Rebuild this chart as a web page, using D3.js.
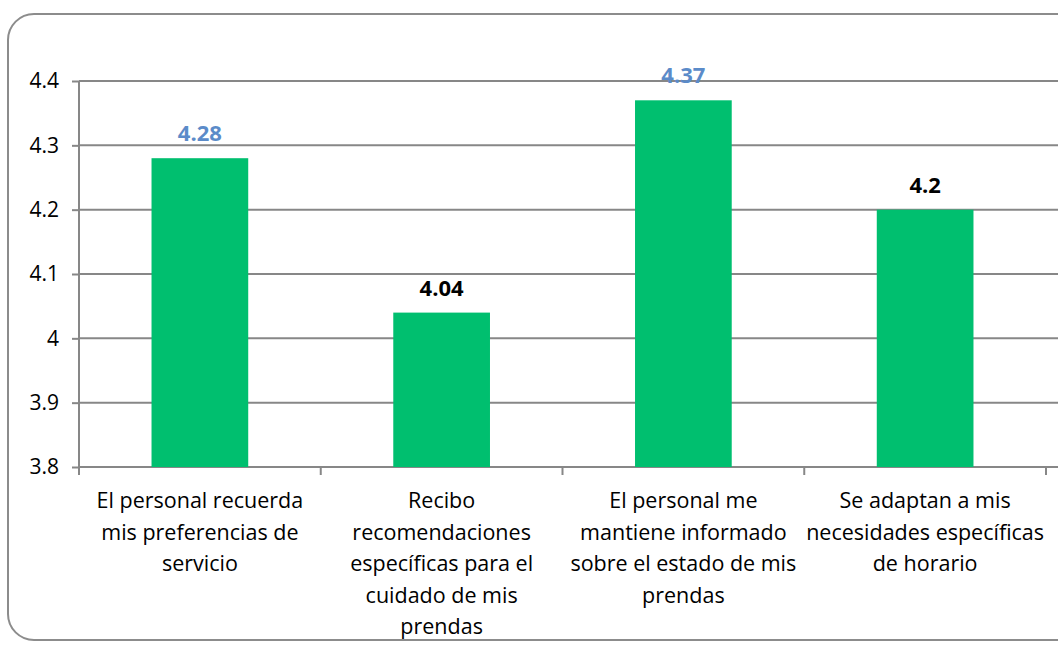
<!DOCTYPE html>
<html>
<head>
<meta charset="utf-8">
<script src="https://cdn.jsdelivr.net/npm/d3@7"></script>
<style>
  html, body { margin: 0; padding: 0; background: #fff; }
  svg { display: block; }
</style>
</head>
<body>
<svg id="chart" width="1058" height="645"></svg>
<script>
// Survey items (each label broken into its display lines)
const categories = [
  ["El personal recuerda", "mis preferencias de", "servicio"],
  ["Recibo", "recomendaciones", "específicas para el", "cuidado de mis", "prendas"],
  ["El personal me", "mantiene informado", "sobre el estado de mis", "prendas"],
  ["Se adaptan a mis", "necesidades específicas", "de horario"]
];
const values = [4.28, 4.04, 4.37, 4.2];
const valueLabelColors = ["#5b8bc9", "#000000", "#5b8bc9", "#000000"];
const yTicks = [3.8, 3.9, 4.0, 4.1, 4.2, 4.3, 4.4];

const svg = d3.select("#chart");
const font = "'Open Sans', sans-serif";
const gridColor = "#878787";

// Outer rounded frame
svg.append("rect")
  .attr("x", 8).attr("y", 14)
  .attr("width", 1080).attr("height", 626)
  .attr("rx", 26).attr("ry", 26)
  .attr("fill", "#fff")
  .attr("stroke", "#8c8c8c")
  .attr("stroke-width", 2);

const plot = { left: 79, right: 1046, top: 81, bottom: 467 };

const x = d3.scaleBand()
  .domain(d3.range(categories.length))
  .range([plot.left, plot.right])
  .paddingInner(0.6)
  .paddingOuter(0.3);

const y = d3.scaleLinear()
  .domain([3.8, 4.4])
  .range([plot.bottom, plot.top]);

// Horizontal gridlines
svg.append("g")
  .selectAll("line")
  .data(yTicks)
  .join("line")
  .attr("x1", plot.left).attr("x2", 1060)
  .attr("y1", d => y(d)).attr("y2", d => y(d))
  .attr("stroke", gridColor)
  .attr("stroke-width", 2);

// Y axis with tick labels
const yAxis = svg.append("g")
  .attr("transform", `translate(${plot.left},0)`)
  .call(d3.axisLeft(y).tickValues(yTicks).tickSize(7).tickPadding(13)
    .tickFormat(d => d3.format("")(+d.toFixed(1))));
yAxis.select(".domain").attr("stroke", gridColor).attr("stroke-width", 2)
  .attr("d", `M0,${plot.top}V${plot.bottom + 8}`);
yAxis.selectAll(".tick line").attr("stroke", gridColor).attr("stroke-width", 2);
yAxis.selectAll(".tick text")
  .attr("font-family", font).attr("font-size", 21).attr("fill", "#000");

// Category separators on the x axis
const sepX = d3.range(categories.length + 1).map(i => plot.left + (plot.right - plot.left) * i / categories.length);
svg.append("g")
  .selectAll("line")
  .data(sepX)
  .join("line")
  .attr("x1", d => d).attr("x2", d => d)
  .attr("y1", plot.bottom).attr("y2", plot.bottom + 8)
  .attr("stroke", gridColor)
  .attr("stroke-width", 2);

// Bars
svg.append("g")
  .selectAll("rect")
  .data(values)
  .join("rect")
  .attr("x", (d, i) => x(i))
  .attr("width", x.bandwidth())
  .attr("y", d => y(d))
  .attr("height", d => y(3.8) - y(d))
  .attr("fill", "#00bf6f");

// Value labels
svg.append("g")
  .selectAll("text")
  .data(values)
  .join("text")
  .attr("x", (d, i) => x(i) + x.bandwidth() / 2)
  .attr("y", d => y(d) - 17)
  .attr("text-anchor", "middle")
  .attr("font-family", font)
  .attr("font-weight", "bold")
  .attr("font-size", 22)
  .attr("fill", (d, i) => valueLabelColors[i])
  .text(d => d);

// Category labels
const catG = svg.append("g")
  .selectAll("text")
  .data(categories)
  .join("text")
  .attr("x", (d, i) => x(i) + x.bandwidth() / 2)
  .attr("y", 508)
  .attr("text-anchor", "middle")
  .attr("font-family", font)
  .attr("font-size", 21.5)
  .attr("fill", "#000");
catG.selectAll("tspan")
  .data(d => d)
  .join("tspan")
  .attr("x", function() { return this.parentNode.getAttribute("x"); })
  .attr("dy", (d, i) => i === 0 ? 0 : 31.5)
  .text(d => d);
</script>
</body>
</html>
